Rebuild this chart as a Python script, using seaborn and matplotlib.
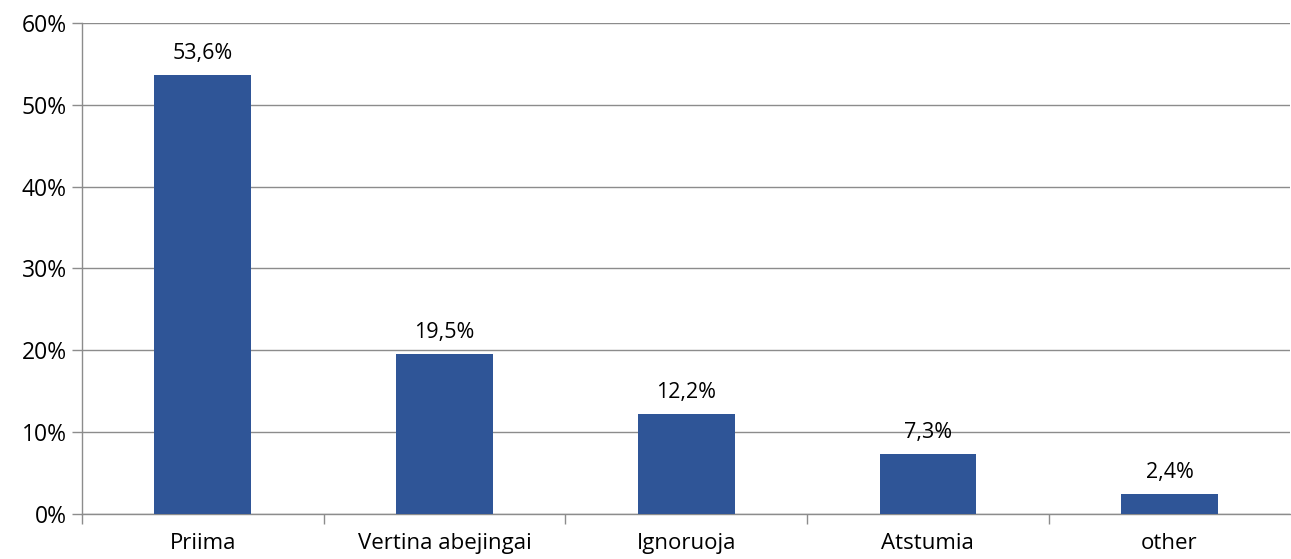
import matplotlib
matplotlib.use("Agg")
import matplotlib.pyplot as plt
import seaborn as sns
import numpy as np
import pandas as pd

categories = ["Priima", "Vertina abejingai", "Ignoruoja", "Atstumia", "other"]
values = [53.6, 19.5, 12.2, 7.3, 2.4]
labels = ["53,6%", "19,5%", "12,2%", "7,3%", "2,4%"]
yticks = [0, 10, 20, 30, 40, 50, 60]

sns.set_theme(style="white")
plt.rcParams['font.family'] = ['Open Sans', 'DejaVu Sans']

df = pd.DataFrame({"category": categories, "value": values})

fig = plt.figure(figsize=(12.91, 5.59), dpi=100)
ax = fig.add_axes([0.0635, 0.0805, 0.936, 0.8785])

sns.barplot(data=df, x="category", y="value", color="#2F5597", width=0.4,
            saturation=1, linewidth=0, ax=ax, zorder=3)

for i, (v, lab) in enumerate(zip(values, labels)):
    ax.text(i, v + 1.4, lab, ha="center", va="bottom", fontsize=15.5, color="#000000")

ax.set_xlim(-0.5, len(categories) - 0.5)
ax.set_ylim(0, 60)
ax.set_yticks(yticks)
ax.set_yticklabels([f"{t}%" for t in yticks], fontsize=16.5, color="#000000")
ax.yaxis.grid(True, color="#8c8c8c", linewidth=1, zorder=0)
ax.set_axisbelow(True)

ax.set_xticks(range(len(categories)))
ax.set_xticklabels(categories, fontsize=16, color="#000000")
ax.set_xticks(np.arange(-0.5, len(categories) - 1, 1.0), minor=True)
ax.tick_params(axis="x", which="major", length=0, pad=14)
ax.tick_params(axis="x", which="minor", bottom=True, length=7, color="#8c8c8c", width=1, direction="out")
ax.tick_params(axis="y", length=7, color="#8c8c8c", width=1, direction="out", pad=4, left=True)

ax.set_xlabel("")
ax.set_ylabel("")
for s in ["top", "right"]:
    ax.spines[s].set_visible(False)
for s in ["left", "bottom"]:
    ax.spines[s].set_color("#8c8c8c")
    ax.spines[s].set_linewidth(1)

fig.savefig("out.png", dpi=100)
